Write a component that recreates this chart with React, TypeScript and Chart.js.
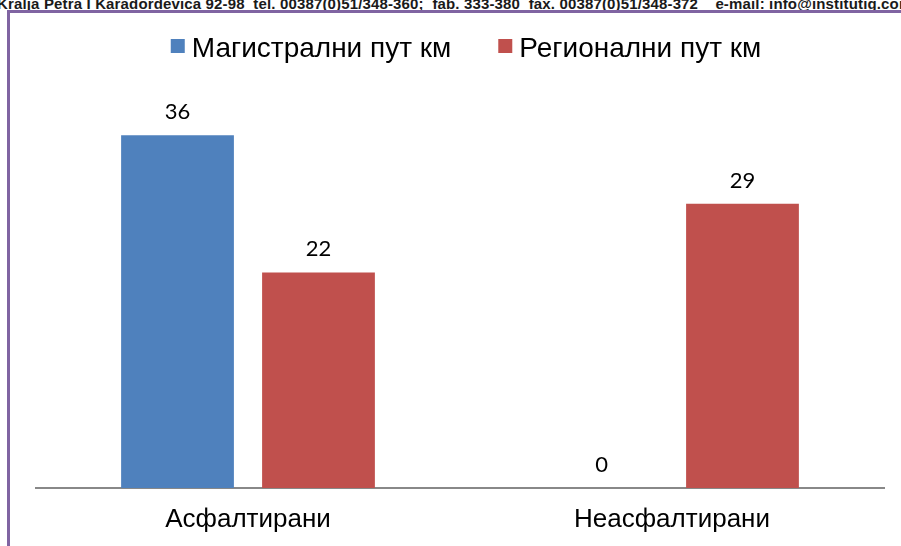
import React, { useEffect, useRef } from "react";
import { Chart, registerables } from "chart.js";

Chart.register(...registerables);

const categories = ["Асфалтирани", "Неасфалтирани"];
const seriesNames = ["Магистрални пут км", "Регионални пут км"];
const magistralni = [36, 0];
const regionalni = [22, 29];
const yMax = 40;
const headerText =
  "Kralja Petra I Karadordevica 92-98  tel. 00387(0)51/348-360;  fab. 333-380  fax. 00387(0)51/348-372    e-mail: info@institutig.com";

const BLUE = "#4F81BD";
const RED = "#C0504D";

const valueLabels = {
  id: "valueLabels",
  afterDatasetsDraw(chart: any) {
    const ctx = chart.ctx;
    ctx.save();
    ctx.font = "22px Lato, 'Open Sans', sans-serif";
    ctx.fillStyle = "#000";
    ctx.textAlign = "center";
    ctx.textBaseline = "alphabetic";
    chart.data.datasets.forEach((ds: any, di: number) => {
      const meta = chart.getDatasetMeta(di);
      meta.data.forEach((el: any, i: number) => {
        ctx.fillText(String(ds.data[i]), el.x, el.y - 16);
      });
    });
    ctx.restore();
  },
};

const customLegend = {
  id: "customLegend",
  afterDraw(chart: any) {
    const ctx = chart.ctx;
    ctx.save();
    ctx.font = "28px 'Liberation Sans', Arial, sans-serif";
    ctx.textBaseline = "alphabetic";
    ctx.textAlign = "left";
    const box = 14;
    const boxGap = 7;
    const itemGap = 47;
    const baseline = 57;
    const boxTop = 39;
    const items = chart.data.datasets.map((ds: any) => ({
      text: ds.label,
      color: ds.backgroundColor,
      w: box + boxGap + ctx.measureText(ds.label).width,
    }));
    const total =
      items.reduce((s: number, it: any) => s + it.w, 0) + itemGap * (items.length - 1);
    let x = 466 - total / 2;
    items.forEach((it: any) => {
      ctx.fillStyle = it.color;
      ctx.fillRect(x, boxTop, box, box);
      ctx.fillStyle = "#000";
      ctx.fillText(it.text, x + box + boxGap, baseline);
      x += it.w + itemGap;
    });
    ctx.restore();
  },
};

export default function App() {
  const canvasRef = useRef<HTMLCanvasElement | null>(null);

  useEffect(() => {
    if (!canvasRef.current) return;
    const chart = new Chart(canvasRef.current, {
      type: "bar",
      data: {
        labels: categories,
        datasets: [
          {
            label: seriesNames[0],
            data: magistralni,
            backgroundColor: BLUE,
            categoryPercentage: 0.665,
            barPercentage: 0.8,
          },
          {
            label: seriesNames[1],
            data: regionalni,
            backgroundColor: RED,
            categoryPercentage: 0.665,
            barPercentage: 0.8,
          },
        ],
      },
      options: {
        animation: false,
        responsive: false,
        maintainAspectRatio: false,
        layout: { padding: { left: 36, right: 17, top: 96, bottom: 0 } },
        plugins: {
          legend: { display: false },
          tooltip: { enabled: false },
          title: { display: false },
        },
        scales: {
          x: {
            grid: { display: false, drawTicks: false },
            border: { display: true, color: "#888888", width: 2 },
            ticks: {
              color: "#000",
              font: { family: "'Liberation Sans', Arial, sans-serif", size: 26 },
              padding: 16,
            },
            afterFit(scale: any) {
              scale.height = 58;
            },
          },
          y: {
            display: false,
            min: 0,
            max: yMax,
          },
        },
      },
      plugins: [valueLabels, customLegend],
    });
    return () => chart.destroy();
  }, []);

  return (
    <div
      style={{
        position: "fixed",
        left: 0,
        top: 0,
        width: 901,
        height: 546,
        overflow: "hidden",
        background: "#fff",
      }}
    >
      <div
        style={{
          position: "absolute",
          left: -3,
          top: -5,
          whiteSpace: "pre",
          fontFamily: "'Liberation Sans', Arial, sans-serif",
          fontWeight: "bold",
          fontSize: 15,
          letterSpacing: "0.15px",
          lineHeight: "17px",
          color: "#1a1a1a",
        }}
      >
        {headerText}
      </div>
      <div
        style={{
          position: "absolute",
          left: 7,
          top: 10,
          right: -10,
          bottom: -10,
          borderLeft: "3px solid #8064A2",
          borderTop: "3px solid #8064A2",
        }}
      />
      <canvas
        ref={canvasRef}
        width={901}
        height={546}
        style={{ position: "absolute", left: 0, top: 0, width: 901, height: 546 }}
      />
    </div>
  );
}
